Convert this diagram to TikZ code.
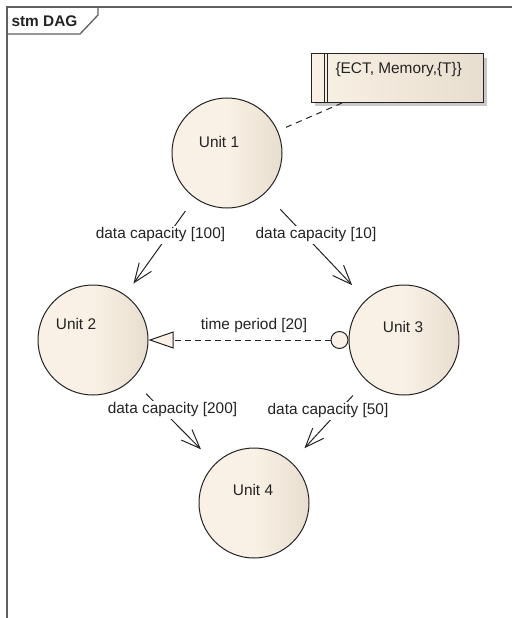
\documentclass[tikz,border=0pt]{standalone}
\usepackage{fontspec}
\setmainfont{Liberation Sans}
\usetikzlibrary{arrows.meta,calc,shadows}
\definecolor{beigeM}{RGB}{249,241,229}
\definecolor{beigeR}{RGB}{232,222,207}
\definecolor{ink}{RGB}{35,35,35}
\definecolor{framegray}{RGB}{95,95,95}

\begin{document}
\begin{tikzpicture}[x=1pt,y=-1pt,
  font=\fontsize{15.4}{18}\selectfont,
  unit/.style={circle, draw=ink, line width=1pt, minimum size=110pt, inner sep=0pt,
    left color=beigeM, right color=beigeR, middle color=beigeM},
  unitname/.style={text=ink},
  lbl/.style={fill=white, inner sep=1.5pt, text=ink},
  flow/.style={draw=ink, line width=1pt, -{Straight Barb[length=19pt,width=15pt]}},
  dep/.style={draw=ink, line width=1pt, dash pattern=on 6pt off 4pt,
    {Circle[length=18pt,fill=beigeM]}-{Triangle[length=25pt,width=17pt,fill=beigeM]}},
  notebox/.style={rectangle, draw=ink, line width=1pt, minimum width=172pt, minimum height=48pt,
    left color=beigeM, right color=beigeR,
    drop shadow={shadow xshift=4pt, shadow yshift=-4pt, fill=black!30, opacity=.7}},
  notelink/.style={draw=ink, line width=1pt, dash pattern=on 6pt off 5pt},
  framestyle/.style={draw=framegray, line width=1.3pt}
]
\useasboundingbox (0,0) rectangle (512,618);

% diagram frame and its name tab
\draw[framestyle] (7,618) -- (7,7) -- (512,7);
\draw[framestyle] (7,34) -- (80,34) -- (98,15) -- (98,7);
\node[text=ink, font=\fontsize{15.4}{18}\selectfont\bfseries] (title) at (44.5,21) {stm DAG};

% states
\node[unit] (u1) at (227,153) {};
\node[unit] (u2) at (93,340) {};
\node[unit] (u3) at (404,340) {};
\node[unit] (u4) at (254,503) {};
\node[unitname] (u1t) at (219,142) {Unit 1};
\node[unitname] (u2t) at (76,324) {Unit 2};
\node[unitname] (u3t) at (403,327) {Unit 3};
\node[unitname] (u4t) at (253,490) {Unit 4};

% constraint note
\node[notebox] (note) at (397,78) {};
\draw[ink, line width=0.8pt] ($(note.north west)+(14,0)$) -- ($(note.south west)+(14,0)$);
\draw[ink, line width=0.8pt] ($(note.north west)+(17,0)$) -- ($(note.south west)+(17,0)$);
\node[anchor=west, text=ink] (notetext) at (332,70) {\{ECT, Memory,\{T\}\}};
\coordinate (nl) at (342,103);
\draw[notelink, shorten >=5pt] (nl) -- (u1);

% transitions
\draw[flow, shorten <=16pt, shorten >=14pt] (u1) -- (u2);
\draw[flow, shorten <=22pt, shorten >=20pt] (u1) -- (u3);
\draw[flow, shorten <=20pt, shorten >=20pt] (u2) -- (u4);
\draw[flow, shorten <=20pt, shorten >=19pt] (u3) -- (u4);
\draw[dep] (u3.west) -- (u2.east);

% transition labels
\node[lbl] (l12) at (160.5,235) {data capacity [100]};
\node[lbl] (l13) at (316,235) {data capacity [10]};
\node[lbl] (l24) at (172.5,410) {data capacity [200]};
\node[lbl] (l34) at (328,411) {data capacity [50]};
\node[text=ink] (l32) at (254,326) {time period [20]};
\end{tikzpicture}
\end{document}
